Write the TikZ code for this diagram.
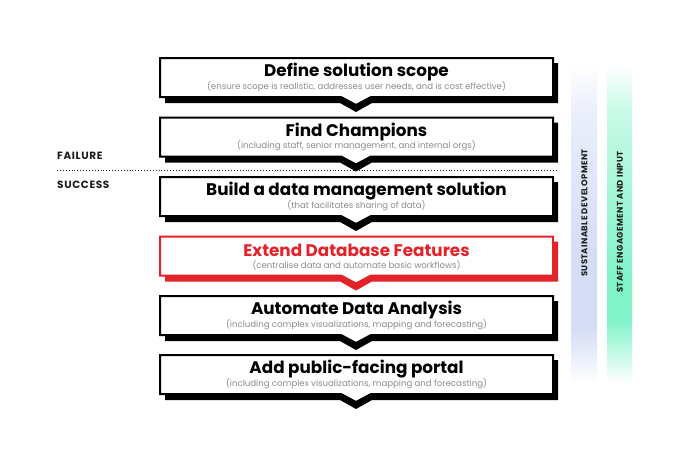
\documentclass[tikz,border=0pt]{standalone}
\usepackage{fontspec}
\setmainfont{Poppins}
\definecolor{myred}{HTML}{E42229}
\definecolor{subgrey}{HTML}{8C8C8C}
\definecolor{barblue}{HTML}{D6DEF6}
\definecolor{barbluelight}{HTML}{EBEFFB}
\definecolor{bargreen}{HTML}{80F3C9}
\definecolor{bargreenlight}{HTML}{C9FAE7}
\definecolor{darktext}{HTML}{1E1E1E}
\tikzset{
  titletext/.style={font=\bfseries\fontsize{16.8}{18}\selectfont, inner sep=0pt, anchor=center},
  subtext/.style={font=\fontsize{8.6}{9}\selectfont, text=subgrey, inner sep=0pt, anchor=center},
  sidelabel/.style={font=\bfseries\fontsize{10.5}{12}\selectfont\addfontfeatures{LetterSpace=6}, text=darktext, inner sep=0pt, anchor=west},
  barlabel/.style={font=\bfseries\fontsize{8.4}{10}\selectfont\addfontfeatures{LetterSpace=5}, text=darktext, inner sep=0pt, rotate=90, anchor=center},
}
\newcommand\flowbox[5]{%
  \fill[#3] (165,#2+5) -- (558,#2+5) -- (558,#2+45) -- (372,#2+45) -- (356,#2+54) -- (340,#2+45) -- (165,#2+45) -- cycle;
  \filldraw[fill=white, draw=#3, line width=2pt, line join=miter] (160,#2) -- (553,#2) -- (553,#2+39) -- (371,#2+39) -- (356,#2+47) -- (341,#2+39) -- (160,#2+39) -- cycle;
  \node[titletext, text=#3] (#1t) at (356.5,#2+14) {#4};
  \node[subtext] (#1s) at (356.5,#2+28.5) {#5};
}
\begin{document}
\begin{tikzpicture}[x=1pt, y=-1pt]
\useasboundingbox[fill=white] (0,0) rectangle (700,451);
% bars
\shade[top color=white, bottom color=barbluelight] (571,65) rectangle (597,110);
\shade[top color=barbluelight, bottom color=barblue] (571,109.5) rectangle (597,250);
\shade[top color=barblue, bottom color=barblue] (571,249.5) rectangle (597,330);
\shade[top color=barblue, bottom color=white] (571,329.5) rectangle (597,383);
\shade[top color=white, bottom color=bargreenlight] (607,65) rectangle (632,110);
\shade[top color=bargreenlight, bottom color=bargreen] (607,109.5) rectangle (632,280);
\shade[top color=bargreen, bottom color=bargreen] (607,279.5) rectangle (632,320);
\shade[top color=bargreen, bottom color=white] (607,319.5) rectangle (632,383);
\node[barlabel] (sd) at (584.5,213) {SUSTAINABLE DEVELOPMENT};
\node[barlabel] (se) at (620,222) {STAFF ENGAGEMENT AND INPUT};
% failure / success
\node[sidelabel] (fail) at (57,155.5) {FAILURE};
\node[sidelabel] (succ) at (57,184.5) {SUCCESS};
\coordinate (dl) at (57,170);
\coordinate (dr) at (557,170);
\draw[line width=0.9pt, dotted, darktext] (dl) -- (dr);
% boxes
\flowbox{b1}{58}{black}{Define solution scope}{(ensure scope is realistic, addresses user needs, and is cost effective)}
\flowbox{b2}{117.5}{black}{Find Champions}{(including staff, senior management, and internal orgs)}
\flowbox{b3}{177}{black}{Build a data management solution}{(that facilitates sharing of data)}
\flowbox{b4}{236.5}{myred}{Extend Database Features}{(centralise data and automate basic workflows)}
\flowbox{b5}{296}{black}{Automate Data Analysis}{(including complex visualizations, mapping and forecasting)}
\flowbox{b6}{355}{black}{Add public-facing portal}{(including complex visualizations, mapping and forecasting)}
\end{tikzpicture}
\end{document}
